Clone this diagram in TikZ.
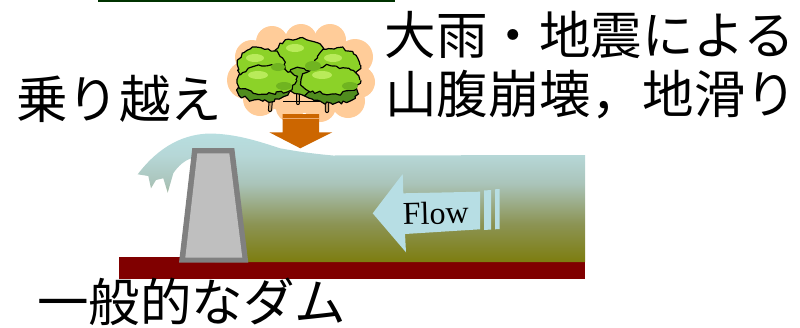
\documentclass[tikz,border=0pt]{standalone}
\usepackage{fontspec}
\newfontfamily\jpfont{Noto Sans CJK JP}
\newfontfamily\flowfont{Liberation Serif}
\usetikzlibrary{decorations.pathmorphing}

\definecolor{peach}{RGB}{255,204,153}
\definecolor{rust}{RGB}{204,102,0}
\definecolor{rustline}{RGB}{238,170,110}
\definecolor{damedge}{RGB}{128,128,128}
\definecolor{damfill}{RGB}{191,191,191}
\definecolor{ground}{RGB}{128,0,0}
\definecolor{topline}{RGB}{0,51,0}
\definecolor{flowblue}{RGB}{183,222,228}
\definecolor{wA}{RGB}{125,125,15}
\definecolor{wB}{RGB}{140,148,85}
\definecolor{wC}{RGB}{170,196,186}
\definecolor{wD}{RGB}{182,215,215}
\definecolor{wE}{RGB}{184,222,224}
\definecolor{leafhi}{RGB}{140,210,40}
\definecolor{leafmid}{RGB}{112,180,32}
\definecolor{leaflo}{RGB}{80,140,30}
\definecolor{leaftip}{RGB}{185,235,90}
\definecolor{bark}{RGB}{200,160,110}

% water colour, olive at the bed to pale blue at the surface
\pgfdeclareverticalshading{reservoir}{100bp}{color(0bp)=(wA); color(25bp)=(wA);
  color(40bp)=(wB); color(55.6bp)=(wC); color(66.5bp)=(wD); color(75bp)=(wE);
  color(100bp)=(wE)}

\tikzset{
  jtext/.style={font=\jpfont\fontsize{51.5}{60}\selectfont, inner sep=0pt, anchor=base west},
  leaf/.style={draw=black, line width=1.2pt, line join=round, decorate,
    decoration={random steps, segment length=3.4pt, amplitude=1.9pt}},
  trunkline/.style={line cap=round, line join=round},
}

\begin{document}
\begin{tikzpicture}[x=1pt,y=-1pt]
\pgfmathsetseed{11}
\useasboundingbox (0,0) rectangle (800,327);

% rule along the top edge
\fill[topline] (98,0) rectangle (395,2.2);

% river bed
\fill[ground] (119,256.7) rectangle (585,278.7);

% reservoir with the wave curling over the crest
\path[shading=reservoir]
  (215,262) -- (585,262) -- (585,155) -- (333,155.5)
  .. controls (305,153) and (290,150) .. (280,148.3)
  .. controls (255,140) and (235,134) .. (210,133.5)
  .. controls (185,134) and (160,145) .. (137.7,174.3)
  -- (148.3,176) -- (151,188.3) -- (156,180) -- (163.3,178.3)
  -- (167.7,192.7) -- (173.3,173.3)
  .. controls (178,166) and (185,160) .. (191.7,158.3)
  -- (200,160) -- cycle;

% dam body
\fill[damedge] (192.3,148) -- (234.3,148) -- (248.3,262.7) -- (179,262.7) -- cycle;
\fill[damfill] (197.3,153.3) -- (229.3,153.3) -- (242.3,257.7) -- (185.3,257.7) -- cycle;

% flow arrow
\fill[flowblue] (372.7,213.3) -- (402.7,174) -- (403.3,193.3) -- (480,191.7)
  -- (480,229.3) -- (405,234) -- (406,252.3) -- cycle;
\fill[flowblue] (484,190.5) -- (491,190) -- (491,229.5) -- (484,230) -- cycle;
\fill[flowblue] (495,189.3) -- (499.5,189) -- (499.5,229) -- (495,229.3) -- cycle;
\node[font=\flowfont\fontsize{32}{36}\selectfont, inner sep=0pt, anchor=base, rotate=1.5]
  (flow) at (436,224) {Flow};

% cloud behind the trees
\begin{scope}[fill=peach]
  \fill (301,75) ellipse [x radius=60pt, y radius=38pt];
  \fill (246,80) circle (19pt);
  \fill (252,57) circle (17pt);
  \fill (272,42) circle (16pt);
  \fill (301,40) circle (16pt);
  \fill (330,40) circle (16pt);
  \fill (355,57) circle (18pt);
  \fill (359,82) circle (16pt);
  \fill (348,101) circle (17pt);
  \fill (320,106) circle (16pt);
  \fill (290,108) circle (14pt);
  \fill (260,99) circle (17pt);
\end{scope}

% trunks
\foreach \w/\c in {4.2pt/black, 2.2pt/bark}{
  \draw[trunkline, line width=\w, draw=\c]
    (270,110) -- (271,98) -- (258,86) (271,98) -- (284,87) (271,98) -- (270,90);
  \draw[trunkline, line width=\w, draw=\c]
    (327,111) -- (327,98) -- (315,87) (327,98) -- (341,86) (327,98) -- (328,90);
  \draw[trunkline, line width=\w, draw=\c] (298,103) -- (298,88);
}
\draw[line width=1pt] (283,101) -- (320,101);

% foliage
\draw[leaf, fill=leafhi] (300,57) ellipse [x radius=25pt, y radius=19pt];
\draw[leaf, fill=leafhi] (261,65) ellipse [x radius=23pt, y radius=17pt];
\draw[leaf, fill=leafhi] (337,65) ellipse [x radius=23pt, y radius=17pt];
\draw[leaf, fill=leaflo] (263,91) ellipse [x radius=25pt, y radius=10pt];
\draw[leaf, fill=leaflo] (331,93) ellipse [x radius=27pt, y radius=10pt];
\draw[leaf, fill=leafmid] (300,81) ellipse [x radius=16pt, y radius=13pt];
\draw[leaf, fill=leafhi] (267,80) ellipse [x radius=29pt, y radius=14pt];
\draw[leaf, fill=leafhi] (331,80) ellipse [x radius=29pt, y radius=14pt];

% lit and shaded patches on the crowns
\fill[leaftip] (295,48) ellipse [x radius=9pt, y radius=4pt];
\fill[leaftip] (255,58) ellipse [x radius=9pt, y radius=4pt];
\fill[leaftip] (333,58) ellipse [x radius=9pt, y radius=4pt];
\fill[leaftip] (258,75) ellipse [x radius=10pt, y radius=4pt];
\fill[leaftip] (322,75) ellipse [x radius=10pt, y radius=4pt];
\fill[leafmid] (284,86) ellipse [x radius=8pt, y radius=4pt];
\fill[leafmid] (350,86) ellipse [x radius=8pt, y radius=4pt];
\fill[leafmid] (313,66) ellipse [x radius=8pt, y radius=5pt];
\fill[leafmid] (278,67) ellipse [x radius=7pt, y radius=4pt];

% slide arrow from the slope into the reservoir
\fill[rust] (282.7,114) -- (319,114) -- (319,132.3) -- (332.3,132.3)
  -- (300.3,148.3) -- (269.3,132.3) -- (282.7,132.3) -- cycle;
\draw[rustline, line width=0.8pt] (282.7,118.7) -- (319,118.7);

% labels
\node[jtext] (cause1) at (384.5,54.7) {大雨・地震による};
\node[jtext] (cause2) at (385,113) {山腹崩壊，地滑り};
\node[jtext] (over)   at (16,118) {乗り越え};
\node[jtext] (dam)    at (37,321.5) {一般的なダム};
\end{tikzpicture}
\end{document}
